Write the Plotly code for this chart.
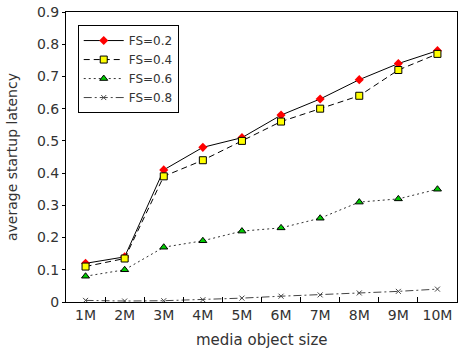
import plotly.graph_objects as go

categories = ["1M", "2M", "3M", "4M", "5M", "6M", "7M", "8M", "9M", "10M"]
fs02 = [0.12, 0.14, 0.41, 0.48, 0.51, 0.58, 0.63, 0.69, 0.74, 0.78]
fs04 = [0.11, 0.135, 0.39, 0.44, 0.50, 0.56, 0.60, 0.64, 0.72, 0.77]
fs06 = [0.08, 0.10, 0.17, 0.19, 0.22, 0.23, 0.26, 0.31, 0.32, 0.35]
fs08 = [0.005, 0.003, 0.004, 0.007, 0.012, 0.018, 0.022, 0.028, 0.033, 0.04]
y_ticks = [0, 0.1, 0.2, 0.3, 0.4, 0.5, 0.6, 0.7, 0.8, 0.9]
y_labels = ["0", "0.1", "0.2", "0.3", "0.4", "0.5", "0.6", "0.7", "0.8", "0.9"]

xs = list(range(1, len(categories) + 1))
font = "DejaVu Sans, Liberation Sans, sans-serif"
txt = "#333333"

fig = go.Figure()
fig.add_trace(go.Scatter(x=xs, y=fs02, name="FS=0.2", mode="lines+markers",
                         line=dict(color="black", width=1, dash="solid"),
                         marker=dict(symbol="diamond", size=7, color="red")))
fig.add_trace(go.Scatter(x=xs, y=fs04, name="FS=0.4", mode="lines+markers",
                         line=dict(color="black", width=1, dash="6px,4px"),
                         marker=dict(symbol="square", size=7, color="yellow",
                                     line=dict(color="black", width=1))))
fig.add_trace(go.Scatter(x=xs, y=fs06, name="FS=0.6", mode="lines+markers",
                         line=dict(color="#333333", width=1, dash="2px,3px"),
                         marker=dict(symbol="triangle-up", size=7, color="#00cc00",
                                     line=dict(color="black", width=1))))
fig.add_trace(go.Scatter(x=xs, y=fs08, name="FS=0.8", mode="lines+markers",
                         line=dict(color="#444444", width=1, dash="8px,3px,2px,3px"),
                         marker=dict(symbol="x-thin", size=5, color="#444444",
                                     line=dict(color="#444444", width=1))))

fig.update_layout(
    width=458, height=350,
    margin=dict(l=66, r=1, t=12, b=48, autoexpand=False),
    paper_bgcolor="white", plot_bgcolor="white",
    font=dict(family=font, size=14, color=txt),
    legend=dict(x=0.03, y=0.955, xanchor="left", yanchor="top",
                bgcolor="white", bordercolor="black", borderwidth=1,
                font=dict(size=12, color=txt), tracegroupgap=0, itemwidth=40),
    showlegend=True,
    annotations=[
        dict(text="media object size", xref="paper", yref="paper", x=0.5, y=-0.13,
             xanchor="center", yanchor="middle", showarrow=False,
             font=dict(size=15, color=txt)),
        dict(text="average startup latency", xref="paper", yref="paper", x=-0.138, y=0.5,
             xanchor="center", yanchor="middle", showarrow=False, textangle=-90,
             font=dict(size=14, color=txt)),
    ],
)
fig.update_xaxes(
    range=[0.5, 10.5], tickmode="array", tickvals=xs, ticktext=categories,
    ticks="", showgrid=False, zeroline=False, automargin=False,
    showline=True, linecolor="black", linewidth=1, mirror=True,
    minor=dict(tickvals=[i + 0.5 for i in xs[:-1]], ticks="inside", ticklen=5,
               tickcolor="black", showgrid=False),
    tickfont=dict(size=14, color=txt),
)
fig.update_yaxes(
    range=[0, 0.9], tickmode="array", tickvals=y_ticks, ticktext=y_labels,
    ticks="outside", ticklen=3, tickcolor="black", showgrid=False, zeroline=False,
    automargin=False,
    showline=True, linecolor="black", linewidth=1, mirror=True,
    tickfont=dict(size=14, color=txt),
)

fig.write_html("out.html", config={"displayModeBar": False},
               post_script="document.body.style.margin='0';")
